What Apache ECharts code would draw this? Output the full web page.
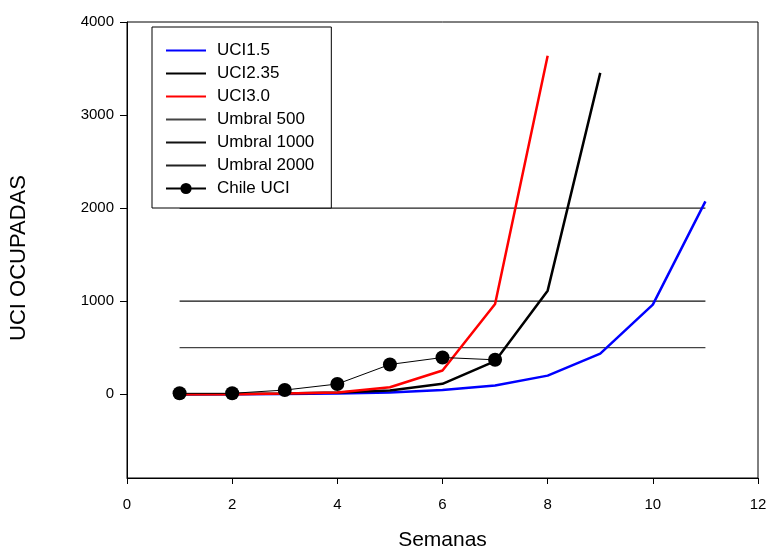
<!DOCTYPE html>
<html>
<head>
<meta charset="utf-8">
<script src="https://cdn.jsdelivr.net/npm/echarts@6/dist/echarts.min.js"></script>
<style>html,body{margin:0;padding:0;background:#fff}#c{width:770px;height:556px}</style>
</head>
<body>
<div id="c"></div>
<script>
var weeks = [1, 2, 3, 4, 5, 6, 7, 8, 9, 10, 11];
var uci15 = [0, 1, 3, 8, 20, 45, 95, 200, 437, 963, 2073];
var uci235 = [0, 2, 8, 18, 40, 112, 355, 1113, 3453];
var uci30 = [0, 1, 8, 20, 75, 255, 970, 3637];
var chileUci = [10, 10, 45, 110, 320, 395, 370];
var umbralX = [1, 11];
var umbral500 = [500, 500];
var umbral1000 = [1000, 1000];
var umbral2000 = [2000, 2000];
var xTicks = [0, 2, 4, 6, 8, 10, 12];
var yTicks = [0, 1000, 2000, 3000, 4000];
var lineNames = ['UCI1.5', 'UCI2.35', 'UCI3.0', 'Umbral 500', 'Umbral 1000', 'Umbral 2000'];
var markerName = 'Chile UCI';

function pairs(xs, ys) { return ys.map(function (v, i) { return [xs[i], v]; }); }

var FONT = 'Liberation Sans, Arial, sans-serif';
var legendData = lineNames.map(function (n) { return { name: n, itemStyle: { opacity: 0 } }; });
legendData.push({ name: markerName });

var chart = echarts.init(document.getElementById('c'), null, { renderer: 'canvas' });
chart.setOption({
  animation: false,
  backgroundColor: '#fff',
  textStyle: { fontFamily: FONT, color: '#000' },
  grid: { left: 127, right: 12, top: 22, bottom: 75, show: true, borderColor: '#000', borderWidth: 1, backgroundColor: 'transparent' },
  legend: {
    orient: 'vertical', left: 152, top: 27,
    padding: [15, 17, 11, 13],
    itemWidth: 40, itemHeight: 14, itemGap: 6,
    borderColor: '#000', borderWidth: 1, backgroundColor: '#fff',
    textStyle: { fontFamily: FONT, fontSize: 17, lineHeight: 16, color: '#000', padding: [0, 0, 0, 6] },
    data: legendData
  },
  xAxis: {
    type: 'value', min: 0, max: 12, interval: 2,
    name: 'Semanas', nameLocation: 'middle', nameGap: 52,
    nameTextStyle: { fontFamily: FONT, fontSize: 21, color: '#000' },
    axisLine: { show: true, onZero: false, lineStyle: { color: '#000', width: 1 } },
    axisTick: { show: true, inside: false, length: 6, lineStyle: { color: '#000' }, customValues: xTicks },
    axisLabel: { fontFamily: FONT, fontSize: 15, color: '#000', margin: 19, customValues: xTicks },
    splitLine: { show: false }
  },
  yAxis: {
    type: 'value', min: -900, max: 4000,
    name: 'UCI OCUPADAS', nameLocation: 'middle', nameGap: 97, nameRotate: 90,
    nameTextStyle: { fontFamily: FONT, fontSize: 22, color: '#000', padding: [0, 16, 0, 0] },
    axisLine: { show: true, onZero: false, lineStyle: { color: '#000', width: 1 } },
    axisTick: { show: true, inside: false, length: 7, lineStyle: { color: '#000' }, customValues: yTicks },
    axisLabel: { fontFamily: FONT, fontSize: 15, color: '#000', margin: 13, customValues: yTicks, formatter: function (v) { return String(v); } },
    splitLine: { show: false }
  },
  series: [
    { name: 'UCI1.5', type: 'line', data: pairs(weeks, uci15), symbol: 'none', lineStyle: { color: '#0000ff', width: 2.5 }, itemStyle: { color: '#0000ff' }, z: 3 },
    { name: 'UCI2.35', type: 'line', data: pairs(weeks, uci235), symbol: 'none', lineStyle: { color: '#000', width: 2.5 }, itemStyle: { color: '#000' }, z: 3 },
    { name: 'UCI3.0', type: 'line', data: pairs(weeks, uci30), symbol: 'none', lineStyle: { color: '#ff0000', width: 2.5 }, itemStyle: { color: '#ff0000' }, z: 3 },
    { name: 'Umbral 500', type: 'line', data: pairs(umbralX, umbral500), symbol: 'none', lineStyle: { color: '#444', width: 1.2 }, itemStyle: { color: '#444' }, z: 2 },
    { name: 'Umbral 1000', type: 'line', data: pairs(umbralX, umbral1000), symbol: 'none', lineStyle: { color: '#111', width: 1.2 }, itemStyle: { color: '#111' }, z: 2 },
    { name: 'Umbral 2000', type: 'line', data: pairs(umbralX, umbral2000), symbol: 'none', lineStyle: { color: '#222', width: 1.2 }, itemStyle: { color: '#222' }, z: 2 },
    { name: 'Chile UCI', type: 'line', data: pairs(weeks, chileUci), symbol: 'circle', symbolSize: 14, showAllSymbol: true, lineStyle: { color: '#000', width: 1 }, itemStyle: { color: '#000' }, z: 4 }
  ]
});
</script>
</body>
</html>
